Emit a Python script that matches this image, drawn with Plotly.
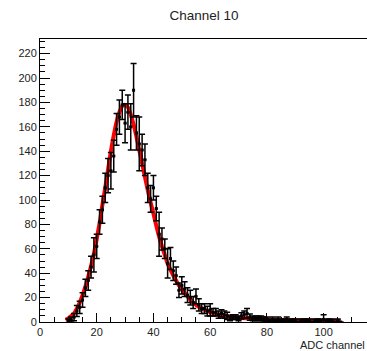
import plotly.graph_objects as go

# ADC channel bins (bin width 1) and their contents with errors
adc_channel = list(range(10, 107))
counts = [1, 2, 4, 9, 12, 18, 28, 34, 45, 55,
          62, 82, 92, 110, 120, 124, 136, 158, 168, 178,
          163, 172, 160, 190, 155, 146, 141, 133, 110, 101,
          110, 93, 72, 68, 60, 48, 52, 42, 38, 26,
          30, 27, 22, 20, 16, 21, 14, 11, 11, 9,
          10, 8, 8, 6, 7, 6, 5, 3, 4, 4,
          3, 5, 6, 7, 4, 3, 3, 3, 3, 2,
          2, 1, 2, 1, 2, 1, 1, 2, 1, 1,
          1, 0, 1, 1, 1, 1, 0, 1, 1, 1,
          2, 1, 1, 1, 0, 1, 0]
errors = [1.5, 2, 3, 4.5, 5, 6, 7, 8, 9, 14,
          10, 10, 11, 12, 14, 15, 13, 13, 14, 12,
          16, 14, 19, 22, 14, 22, 13, 13, 12, 11,
          10, 10, 18, 9, 8, 12, 9, 8, 7, 6,
          7, 6, 6, 6, 5, 6, 5, 4, 4, 4,
          5, 3, 3, 3, 3, 3, 3, 2, 2, 2,
          2, 2.5, 3, 4, 2.5, 2, 2, 2, 2, 2,
          2, 1.5, 2, 1.5, 2, 1.5, 1.5, 2, 1.5, 1.5,
          1.5, 0, 1.5, 1.5, 1.5, 1.5, 0, 1.5, 1.5, 1.5,
          4, 1.5, 1.5, 1.5, 0, 1.5, 0]
half_bin = [0.5] * len(adc_channel)

# fitted function sampled along the channel axis
fit_x = [9, 10, 11, 12, 13, 14, 15, 16, 17, 18, 19, 20, 21, 22, 23, 24, 25, 26, 27, 28,
         29, 30, 31, 32, 33, 34, 35, 36, 37, 38, 39, 40, 41, 42, 43, 44, 45, 46, 47, 48,
         49, 50, 52, 54, 56, 58, 60, 62, 64, 67, 70, 75, 80, 85, 90, 95, 100, 106]
fit_y = [2, 3, 5, 7, 11, 16, 22, 29, 37, 46, 56, 68, 81, 96, 110, 125, 140, 153, 164, 172,
         177, 178, 176, 170, 162, 152, 141, 130, 119, 108, 98, 89, 79, 70, 62, 55, 48, 43, 38, 34,
         30, 27, 21, 16, 12.5, 10, 8, 6.5, 5.5, 4.5, 3.5, 2.7, 2.1, 1.7, 1.4, 1.2, 1.0, 0.8]

x_ticks = [0, 20, 40, 60, 80, 100]
y_ticks = [0, 20, 40, 60, 80, 100, 120, 140, 160, 180, 200, 220]

font_main = "Liberation Sans, Arial, sans-serif"

fig = go.Figure()

fig.add_trace(go.Scatter(
    x=fit_x, y=fit_y, mode="lines",
    line=dict(color="#ff0000", width=4, shape="spline"),
    hoverinfo="skip", showlegend=False,
))

fig.add_trace(go.Scatter(
    x=adc_channel, y=counts, mode="markers",
    marker=dict(color="black", size=3, symbol="square"),
    error_y=dict(type="data", array=errors, visible=True, color="black",
                 thickness=1.5, width=3),
    error_x=dict(type="data", array=half_bin, visible=True, color="black",
                 thickness=1.5, width=0),
    showlegend=False,
))

axis_font = dict(family=font_main, size=11, color="#222222")

fig.update_layout(
    width=367, height=351,
    margin=dict(l=40, r=0, t=39, b=29),
    paper_bgcolor="white", plot_bgcolor="white",
    showlegend=False,
    title=dict(text="Channel 10", x=204 / 367, xanchor="center",
               y=1 - 15 / 351, yanchor="middle",
               font=dict(family=font_main, size=13.5, color="#222222")),
    xaxis=dict(
        range=[0, 115.3], showgrid=False, zeroline=False,
        showline=True, linecolor="black", linewidth=1, mirror=True,
        ticks="inside", ticklen=9, tickcolor="black", tickwidth=1,
        tickvals=x_ticks, ticktext=[str(v) for v in x_ticks],
        tickfont=axis_font,
        minor=dict(ticks="inside", ticklen=5, tickcolor="black", dtick=5, tick0=0),
    ),
    yaxis=dict(
        range=[0, 232], showgrid=False, zeroline=False,
        showline=True, linecolor="black", linewidth=1,
        ticks="inside", ticklen=10, tickcolor="black", tickwidth=1,
        tickvals=y_ticks, ticktext=[str(v) for v in y_ticks],
        tickfont=axis_font,
        minor=dict(ticks="inside", ticklen=5, tickcolor="black", dtick=5, tick0=0),
    ),
    annotations=[dict(
        text="ADC channel", xref="paper", yref="paper",
        x=(298 - 40) / 327, y=-23 / 283, xanchor="left", yanchor="middle",
        showarrow=False, font=dict(family=font_main, size=11, color="#222222"),
    )],
)

fig.write_html("out.html")
